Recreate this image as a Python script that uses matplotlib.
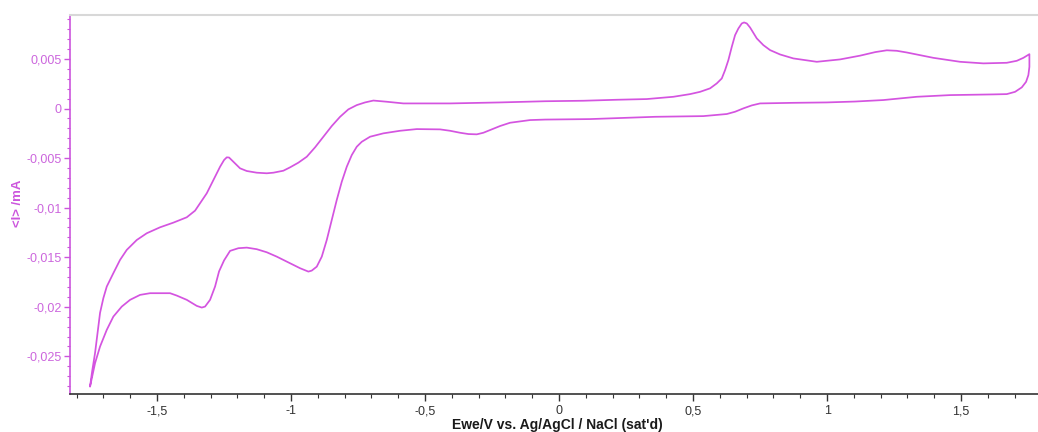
import numpy as np
import matplotlib
matplotlib.use("Agg")
import matplotlib.pyplot as plt
from matplotlib.ticker import MultipleLocator, FuncFormatter

# cyclic voltammogram, forward scan (-1.75 V -> +1.75 V)
e_fwd = [-1.7500, -1.7425, -1.7313, -1.7127, -1.7004, -1.6877, -1.6631, -1.6381,
         -1.6131, -1.5757, -1.5384, -1.4888, -1.4392, -1.3892, -1.3582, -1.3396,
         -1.3146, -1.2899, -1.2649, -1.2500, -1.2399, -1.2313, -1.2153, -1.1903,
         -1.1653, -1.1280, -1.0907, -1.0660, -1.0287, -1.0037, -0.9728, -0.9414,
         -0.9104, -0.8795, -0.8481, -0.8172, -0.7862, -0.7549, -0.7239, -0.6929,
         -0.6429, -0.5810, -0.4067, -0.2201, -0.0522, 0.0907, 0.2153, 0.3272,
         0.4265, 0.4888, 0.5261, 0.5634, 0.5884, 0.6071, 0.6194, 0.6317, 0.6444,
         0.6567, 0.6690, 0.6817, 0.6903, 0.7004, 0.7127, 0.7377, 0.7623, 0.7873,
         0.8246, 0.8743, 0.9616, 1.0485, 1.1231, 1.1800, 1.2228, 1.2601, 1.2974,
         1.3470, 1.3966, 1.4963, 1.5832, 1.6705, 1.7078, 1.7325, 1.7549]
i_fwd = [-0.02804, -0.02656, -0.02465, -0.02061, -0.01913, -0.01796, -0.01661,
         -0.01527, -0.01426, -0.01326, -0.01258, -0.01198, -0.01151, -0.01097,
         -0.01030, -0.00956, -0.00855, -0.00721, -0.00587, -0.00519, -0.00492,
         -0.00494, -0.00536, -0.00603, -0.00630, -0.00647, -0.00653, -0.00647,
         -0.00627, -0.00593, -0.00546, -0.00486, -0.00391, -0.00284, -0.00176,
         -0.00083, -0.00008, 0.00035, 0.00062, 0.00081, 0.00069, 0.00052, 0.00052,
         0.00062, 0.00074, 0.00079, 0.00089, 0.00096, 0.00119, 0.00146, 0.00169,
         0.00204, 0.00254, 0.00304, 0.00388, 0.00489, 0.00623, 0.00741, 0.00808,
         0.00859, 0.00869, 0.00859, 0.00818, 0.00708, 0.00640, 0.00590, 0.00546,
         0.00506, 0.00472, 0.00496, 0.00534, 0.00570, 0.00588, 0.00583, 0.00566,
         0.00539, 0.00512, 0.00472, 0.00456, 0.00462, 0.00482, 0.00512, 0.00549]

# reverse scan (+1.75 V -> -1.75 V)
e_rev = [1.7549, 1.7511, 1.7425, 1.7265, 1.7015, 1.6705, 1.6205, 1.4590, 1.3347,
         1.2101, 1.1045, 0.9989, 0.8743, 0.7500, 0.7190, 0.6877, 0.6567, 0.6257,
         0.5384, 0.3582, 0.1157, -0.0522, -0.1082, -0.1828, -0.2201, -0.2575,
         -0.2825, -0.3071, -0.3384, -0.3694, -0.4067, -0.4440, -0.5310, -0.5933,
         -0.6556, -0.7052, -0.7362, -0.7549, -0.7735, -0.7922, -0.8108, -0.8295,
         -0.8481, -0.8668, -0.8854, -0.9041, -0.9228, -0.9354, -0.9664, -1.0160,
         -1.0534, -1.0907, -1.1280, -1.1653, -1.1966, -1.2276, -1.2500, -1.2687,
         -1.2836, -1.3022, -1.3209, -1.3332, -1.3519, -1.3892, -1.4265, -1.4515,
         -1.5261, -1.5634, -1.6007, -1.6317, -1.6631, -1.6877, -1.7127, -1.7313,
         -1.7500]
i_rev = [0.00421, 0.00338, 0.00270, 0.00214, 0.00169, 0.00146, 0.00143, 0.00136,
         0.00119, 0.00086, 0.00071, 0.00062, 0.00058, 0.00052, 0.00032, 0.00002,
         -0.00032, -0.00055, -0.00076, -0.00083, -0.00106, -0.00111, -0.00116,
         -0.00143, -0.00176, -0.00217, -0.00244, -0.00260, -0.00257, -0.00244,
         -0.00224, -0.00210, -0.00207, -0.00224, -0.00250, -0.00284, -0.00335,
         -0.00385, -0.00469, -0.00587, -0.00738, -0.00922, -0.01124, -0.01326,
         -0.01494, -0.01595, -0.01635, -0.01645, -0.01611, -0.01544, -0.01494,
         -0.01450, -0.01419, -0.01403, -0.01409, -0.01436, -0.01532, -0.01643,
         -0.01796, -0.01930, -0.01998, -0.02008, -0.01991, -0.01930, -0.01887,
         -0.01863, -0.01863, -0.01880, -0.01930, -0.01998, -0.02099, -0.02233,
         -0.02401, -0.02568, -0.02804]

x_ticks = [-1.5, -1.0, -0.5, 0.0, 0.5, 1.0, 1.5]
y_ticks = [-0.025, -0.02, -0.015, -0.01, -0.005, 0.0, 0.005]

curve_col = "#d454e0"
axis_col = "#cc55dd"

plt.rcParams["font.family"] = ["Liberation Sans", "DejaVu Sans"]

fig = plt.figure(figsize=(10.38, 4.32), dpi=100)
ax = fig.add_axes([0.0674, 0.088, 0.9326, 0.877])

e_all = np.concatenate([e_fwd, e_rev])
i_all = np.concatenate([i_fwd, i_rev])
ax.plot(e_all, i_all, color=curve_col, lw=1.25, solid_joinstyle="round",
        solid_capstyle="round")

ax.set_xlim(-1.825, 1.787)
ax.set_ylim(-0.0288, 0.00943)

ax.set_xticks(x_ticks)
ax.set_yticks(y_ticks)
ax.xaxis.set_minor_locator(MultipleLocator(0.1))
ax.yaxis.set_minor_locator(MultipleLocator(0.001))


def comma_fmt(v, pos):
    if abs(v) < 1e-12:
        return "0"
    s = ("%.3f" % v).rstrip("0").rstrip(".")
    return s.replace(".", ",")


ax.xaxis.set_major_formatter(FuncFormatter(comma_fmt))
ax.yaxis.set_major_formatter(FuncFormatter(comma_fmt))

ax.spines["right"].set_visible(False)
ax.spines["top"].set_color("#d8d8d8")
ax.spines["top"].set_linewidth(1.5)
ax.spines["left"].set_color(axis_col)
ax.spines["left"].set_linewidth(1.2)
ax.spines["bottom"].set_color("#333333")
ax.spines["bottom"].set_linewidth(1.2)

ax.tick_params(axis="y", which="major", direction="out", length=4, width=1,
               color=axis_col, labelcolor="#cc66dd", labelsize=9, pad=2)
ax.tick_params(axis="y", which="minor", direction="out", length=2.5, width=0.8,
               color=axis_col)
ax.tick_params(axis="x", which="major", direction="out", length=5, width=1,
               color="#333333", labelcolor="#333333", labelsize=9, pad=3)
ax.tick_params(axis="x", which="minor", direction="out", length=3, width=0.8,
               color="#333333")

fig.text(557 / 1038, 0.016, "Ewe/V vs. Ag/AgCl / NaCl (sat'd)", fontsize=10,
         fontweight="bold", color="#1a1a1a", ha="center", va="center")
fig.text(18 / 1038, 0.530, "<I> /mA", fontsize=9.5, fontweight="bold",
         color=axis_col, rotation=90, ha="center", va="center")

fig.savefig("out.png", dpi=100)
